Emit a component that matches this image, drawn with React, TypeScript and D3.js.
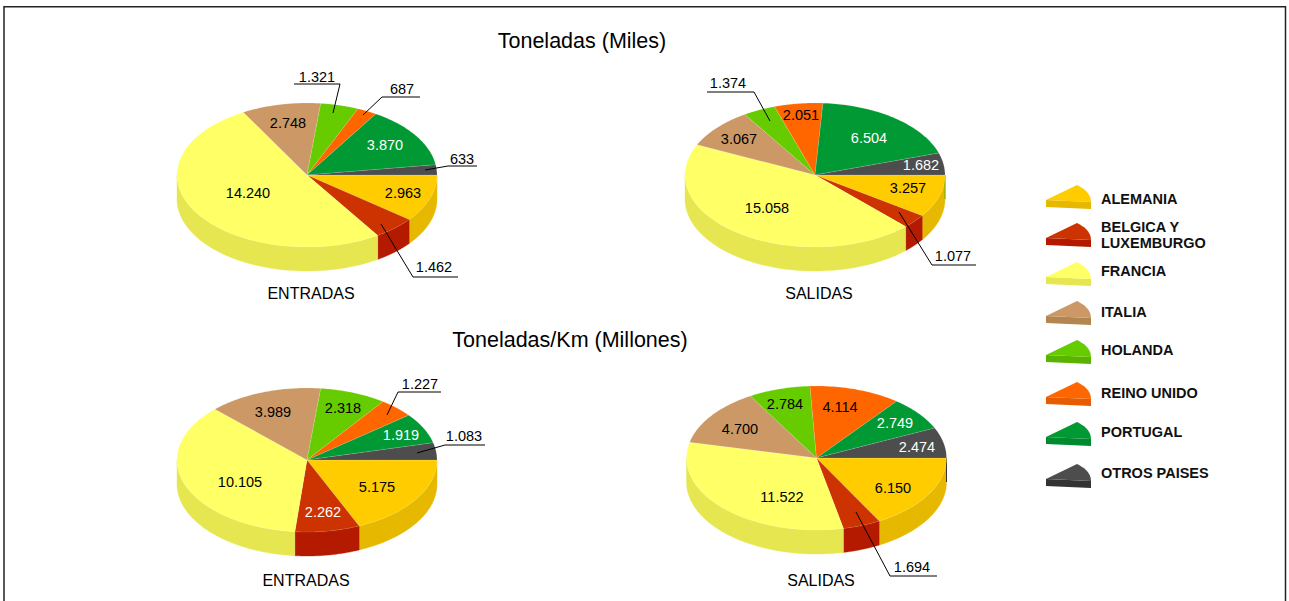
import React from "react";
import * as d3 from "d3";

const paises = ["ALEMANIA", "BELGICA Y LUXEMBURGO", "FRANCIA", "ITALIA", "HOLANDA", "REINO UNIDO", "PORTUGAL", "OTROS PAISES"];
const topColors = ["#FFCC00", "#CC3300", "#FFFF66", "#CC9966", "#66CC00", "#FF6600", "#009933", "#4D4D4D"];
const sideColors = ["#E6B800", "#B31A00", "#E6E650", "#B38550", "#59B300", "#E65C00", "#008A2E", "#333333"];

const entradasMiles = [2963, 1462, 14240, 2748, 1321, 687, 3870, 633];
const salidasMiles = [3257, 1077, 15058, 3067, 1374, 2051, 6504, 1682];
const entradasKm = [5175, 2262, 10105, 3989, 2318, 1227, 1919, 1083];
const salidasKm = [6150, 1694, 11522, 4700, 2784, 4114, 2749, 2474];

const fmt = (v: number) => (v >= 1000 ? `${Math.floor(v / 1000)}.${String(v % 1000).padStart(3, "0")}` : String(v));

// layout: [textX, textY] per slice, optional leader [fromX, fromY, elbowX, elbowY, endX]
type Place = { t: [number, number]; l?: [number, number, number, number, number]; white?: boolean };
type PieSpec = { cx: number; cy: number; values: number[]; caption: string; capX: number; capY: number; places: Place[]; rim?: string };

const pies: PieSpec[] = [
  {
    cx: 307, cy: 175, values: entradasMiles, caption: "ENTRADAS", capX: 311, capY: 293,
    places: [
      { t: [403, 193] },
      { t: [434, 267], l: [381, 224, 413, 277, 458] },
      { t: [248, 193] },
      { t: [288, 123] },
      { t: [317, 77], l: [333, 113, 340, 84, 294] },
      { t: [402, 89], l: [363, 115, 382, 97, 420] },
      { t: [385, 145], white: true },
      { t: [462, 159], l: [425, 170, 448, 166, 477] },
    ],
  },
  {
    cx: 815, cy: 175, values: salidasMiles, caption: "SALIDAS", capX: 819, capY: 293, rim: "#5FB300",
    places: [
      { t: [908, 188] },
      { t: [953, 256], l: [899, 212, 932, 265, 976] },
      { t: [767, 208] },
      { t: [739, 139] },
      { t: [728, 83], l: [770, 121, 754, 92, 707] },
      { t: [801, 115] },
      { t: [869, 138], white: true },
      { t: [921, 165], white: true },
    ],
  },
  {
    cx: 307, cy: 460, values: entradasKm, caption: "ENTRADAS", capX: 306, capY: 580,
    places: [
      { t: [377, 487] },
      { t: [323, 512], white: true },
      { t: [240, 482] },
      { t: [273, 412] },
      { t: [343, 408] },
      { t: [420, 384], l: [387, 415, 398, 392, 441] },
      { t: [401, 435], white: true },
      { t: [464, 436], l: [417, 453, 445, 445, 485] },
    ],
  },
  {
    cx: 816.5, cy: 458, values: salidasKm, caption: "SALIDAS", capX: 821, capY: 580, rim: "#333333",
    places: [
      { t: [893, 488] },
      { t: [912, 567], l: [856, 512, 890, 576, 937] },
      { t: [782, 497] },
      { t: [740, 429] },
      { t: [785, 404] },
      { t: [840, 407] },
      { t: [895, 423], white: true },
      { t: [917, 447], white: true },
    ],
  },
];

const RX = 130;
const RY = 72;
const DEPTH = 24;

const legendY = [185, 223, 262, 301, 340, 382, 422, 464];
const legendLabels: [number, string][][] = [
  [[199, "ALEMANIA"]],
  [[227, "BELGICA Y"], [243, "LUXEMBURGO"]],
  [[271, "FRANCIA"]],
  [[312, "ITALIA"]],
  [[350, "HOLANDA"]],
  [[393, "REINO UNIDO"]],
  [[432, "PORTUGAL"]],
  [[473, "OTROS PAISES"]],
];

const FONT = "'Liberation Sans', Arial, sans-serif";

function Pie3D({ spec }: { spec: PieSpec }) {
  const { cx, cy } = spec;
  const x = d3.scaleLinear().domain([-1, 1]).range([cx - RX, cx + RX]);
  const y = d3.scaleLinear().domain([-1, 1]).range([cy - RY, cy + RY]);
  // d3.pie angles are clockwise from 12 o'clock; start at 3 o'clock
  const arcs = d3.pie<number>().sort(null).startAngle(Math.PI / 2).endAngle(Math.PI / 2 + 2 * Math.PI)(spec.values);
  const px = (a: number) => x(Math.sin(a));
  const py = (a: number) => y(-Math.cos(a));
  const line = d3.line<[number, number]>();
  const sample = (a0: number, a1: number) => d3.range(0, 61).map((i) => a0 + ((a1 - a0) * i) / 60);
  const top = (a0: number, a1: number) =>
    line([[cx, cy], ...sample(a0, a1).map((a) => [px(a), py(a)] as [number, number])]) + "Z";
  const wall = (a0: number, a1: number) => {
    const lo = Math.max(a0, Math.PI / 2);
    const hi = Math.min(a1, (3 * Math.PI) / 2);
    if (hi <= lo) return null;
    const pts = sample(lo, hi);
    return line([
      ...pts.map((a) => [px(a), py(a)] as [number, number]),
      ...pts.slice().reverse().map((a) => [px(a), py(a) + DEPTH] as [number, number]),
    ]) + "Z";
  };
  return (
    <g>
      {arcs.map((d, i) => {
        const w = wall(d.startAngle, d.endAngle);
        return w ? <path key={i} d={w} fill={sideColors[i]} stroke={sideColors[i]} strokeWidth={0.4} /> : null;
      })}
      {spec.rim ? <line x1={cx + RX} x2={cx + RX} y1={cy} y2={cy + DEPTH} stroke={spec.rim} strokeWidth={1} /> : null}
      {arcs.map((d, i) => (
        <path key={i} d={top(d.startAngle, d.endAngle)} fill={topColors[i]} stroke="#ffffff" strokeOpacity={0.25} strokeWidth={0.5} />
      ))}
      {spec.places.map((pl, i) =>
        pl.l ? (
          <polyline key={i} points={`${pl.l[0]},${pl.l[1]} ${pl.l[2]},${pl.l[3]} ${pl.l[4]},${pl.l[3]}`} fill="none" stroke="#000" strokeWidth={1} />
        ) : null
      )}
      {spec.places.map((pl, i) => (
        <text key={i} x={pl.t[0]} y={pl.t[1]} dy="0.36em" textAnchor="middle" fontSize={14.5} fontFamily={FONT} fill={pl.white ? "#fff" : "#000"}>
          {fmt(spec.values[i])}
        </text>
      ))}
      <text x={spec.capX} y={spec.capY} dy="0.36em" textAnchor="middle" fontSize={16} fontFamily={FONT} fill="#000">
        {spec.caption}
      </text>
    </g>
  );
}

function LegendIcon({ y, i }: { y: number; i: number }) {
  const x0 = 1046, ax = 1077, x1 = 1091;
  const topPath = d3.path();
  topPath.moveTo(x0, y + 15);
  topPath.lineTo(ax, y);
  topPath.bezierCurveTo(x1 - 8, y + 3, x1, y + 8, x1, y + 17);
  topPath.closePath();
  const side = d3.path();
  side.moveTo(x0, y + 15);
  side.lineTo(x1, y + 17);
  side.lineTo(x1, y + 24);
  side.lineTo(x0, y + 22);
  side.closePath();
  return (
    <g>
      <path d={side.toString()} fill={sideColors[i]} />
      <path d={topPath.toString()} fill={topColors[i]} />
    </g>
  );
}

export default function App() {
  return (
    <svg width={1289} height={601} style={{ position: "absolute", left: 0, top: 0, background: "#fff" }}>
      <path d="M4,601V6.8H1285.5V601" fill="none" stroke="#222" strokeWidth={1.5} />
      <text x={582} y={40} dy="0.36em" textAnchor="middle" fontSize={21.5} fontFamily={FONT}>Toneladas (Miles)</text>
      <text x={570} y={339} dy="0.36em" textAnchor="middle" fontSize={21.5} fontFamily={FONT}>Toneladas/Km (Millones)</text>
      {pies.map((s, i) => <Pie3D key={i} spec={s} />)}
      {paises.map((p, i) => (
        <g key={p}>
          <LegendIcon y={legendY[i]} i={i} />
          {legendLabels[i].map(([ly, t]) => (
            <text key={t} x={1101} y={ly} dy="0.36em" fontSize={14.5} fontWeight="bold" fontFamily={FONT} fill="#111">{t}</text>
          ))}
        </g>
      ))}
    </svg>
  );
}
